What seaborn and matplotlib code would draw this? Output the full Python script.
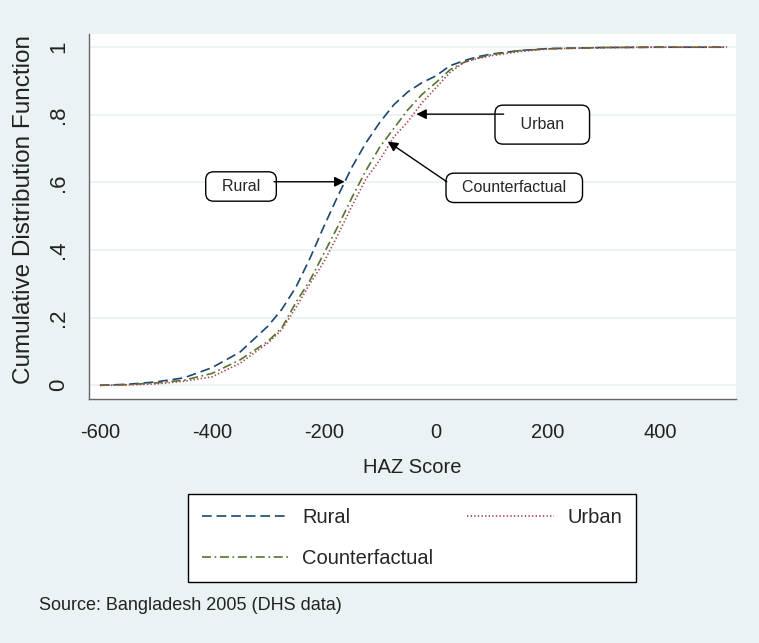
import pandas as pd
import matplotlib.pyplot as plt
import seaborn as sns

# HAZ score grid and cumulative shares
haz = [-600, -550, -500, -450, -400, -350, -300, -275, -250, -225, -200, -175, -150,
       -125, -100, -75, -50, -25, 0, 25, 50, 75, 100, 150, 200, 300, 400, 520]

rural = [0, 0.003, 0.010, 0.022, 0.052, 0.098, 0.175, 0.225, 0.290, 0.375, 0.470, 0.560, 0.645,
         0.717, 0.778, 0.830, 0.868, 0.895, 0.915, 0.945, 0.960, 0.972, 0.980, 0.990, 0.996, 0.999, 1.0, 1.0]
urban = [0, 0.001, 0.004, 0.012, 0.025, 0.065, 0.125, 0.165, 0.230, 0.300, 0.365, 0.445, 0.530,
         0.610, 0.667, 0.735, 0.780, 0.835, 0.880, 0.925, 0.955, 0.967, 0.975, 0.987, 0.995, 0.999, 1.0, 1.0]
counterfactual = [0, 0.002, 0.007, 0.015, 0.035, 0.075, 0.130, 0.170, 0.245, 0.310, 0.390, 0.470, 0.555,
                  0.635, 0.705, 0.760, 0.815, 0.860, 0.895, 0.933, 0.955, 0.968, 0.978, 0.990, 0.995, 0.999, 1.0, 1.0]

xticks = [-600, -400, -200, 0, 200, 400]
yticks = [0, 0.2, 0.4, 0.6, 0.8, 1]
ytick_labels = ['0', '.2', '.4', '.6', '.8', '1']

bg = '#EAF2F3'

sns.set_style('white')
plt.rcParams['font.family'] = ['Liberation Sans', 'DejaVu Sans']
plt.rcParams['lines.scale_dashes'] = False

df = pd.DataFrame({'haz': haz, 'Rural': rural, 'Urban': urban, 'Counterfactual': counterfactual})

fig = plt.figure(figsize=(7.59, 6.43), dpi=100, facecolor=bg)
ax = fig.add_axes([0.1169, 0.3787, 0.8528, 0.5684])
ax.set_facecolor('white')

# style per series
styles = {
    'Rural': dict(color='#1A476F', linestyle=(0, (7, 3.5))),
    'Urban': dict(color='#A8434B', linestyle=(0, (1.0, 1.6))),
    'Counterfactual': dict(color='#55752F', linestyle=(0, (6.5, 2.6, 1.2, 2.6))),
}

for name in ['Rural', 'Counterfactual', 'Urban']:
    sns.lineplot(data=df, x='haz', y=name, ax=ax, lw=1.2, label=name, legend=False,
                 **styles[name])

ax.set_xlim(-620, 536)
ax.set_ylim(-0.042, 1.039)
ax.set_xticks(xticks)
ax.set_xticklabels([str(t) for t in xticks], fontsize=14.5)
ax.set_yticks(yticks)
ax.set_yticklabels(ytick_labels, rotation=90, va='center', fontsize=16)

for y in yticks:
    ax.axhline(y, color=bg, lw=1.3, zorder=0)

for s in ['top', 'right']:
    ax.spines[s].set_visible(False)
for s in ['left', 'bottom']:
    ax.spines[s].set_color('#666666')
    ax.spines[s].set_linewidth(1.0)
ax.tick_params(axis='both', direction='out', length=7, width=1.0, color='#666666',
               labelcolor='#222222', pad=7)
ax.tick_params(axis='x', pad=10)

ax.set_xlabel('HAZ Score', fontsize=14.5, color='#222222')
ax.set_ylabel('Cumulative Distribution Function', fontsize=17.5, color='#222222')
ax.xaxis.set_label_coords(0.5, -0.16)
ax.yaxis.set_label_coords(-0.083, 0.52)

# text boxes with arrows
box = dict(boxstyle='round,pad=0.45,rounding_size=0.5', fc='white', ec='black', lw=1.0)
ax.text(-348, 0.588, '  Rural  ', fontsize=11.5, ha='center', va='center', bbox=box)
ax.text(190, 0.771, '   Urban   ', fontsize=11.5, ha='center', va='center',
        bbox=dict(box, boxstyle='round,pad=0.75,rounding_size=0.5'))
ax.text(140, 0.584, '  Counterfactual  ', fontsize=11.5, ha='center', va='center', bbox=box)

arrow = dict(arrowstyle='-|>', color='black', lw=1.0, mutation_scale=15, shrinkA=0, shrinkB=0)
ax.annotate('', xy=(-163, 0.602), xytext=(-289, 0.602), arrowprops=arrow)
ax.annotate('', xy=(-35, 0.802), xytext=(121, 0.802), arrowprops=arrow)
ax.annotate('', xy=(-86, 0.721), xytext=(19.5, 0.602), arrowprops=arrow)

handles, labels = ax.get_legend_handles_labels()
leg = fig.legend(handles, labels, loc='upper center', bbox_to_anchor=(0.543, 0.2317),
                 ncol=2, fontsize=14.5, frameon=True, fancybox=False, edgecolor='black',
                 framealpha=1, borderpad=0.7, borderaxespad=0, handlelength=4.3,
                 handletextpad=0.65, columnspacing=1.7, labelspacing=1.1)
leg.get_frame().set_linewidth(1.0)

fig.text(0.051, 0.059, 'Source: Bangladesh 2005 (DHS data)', fontsize=13, color='#222222',
         ha='left', va='center')

fig.savefig('out.png', dpi=100, facecolor=bg)
